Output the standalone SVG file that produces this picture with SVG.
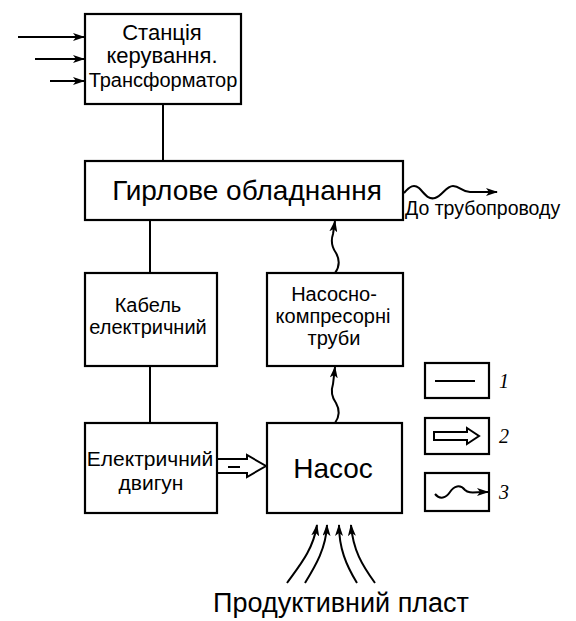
<svg xmlns="http://www.w3.org/2000/svg" width="576" height="621" viewBox="0 0 576 621">
<style>
.box{fill:#fff;stroke:#000;stroke-width:2.2}
.ln{fill:none;stroke:#000;stroke-width:2}
.t{font-family:"Liberation Sans",Arial,sans-serif;fill:#000;text-anchor:middle}
.num{font-family:"Liberation Serif","Times New Roman",serif;font-style:italic;fill:#000;font-size:20px}
</style>
<defs>
<marker id="ah" viewBox="0 0 12 8" refX="11" refY="4" markerWidth="12" markerHeight="8" markerUnits="userSpaceOnUse" orient="auto">
<path d="M0,0 L12,4 L0,8 L3,4 Z" fill="#000"/>
</marker>
</defs>
<rect width="576" height="621" fill="#fff"/>
<g id="connectors">
<line class="ln" x1="18" y1="37" x2="84" y2="37" marker-end="url(#ah)"/>
<line class="ln" x1="35" y1="59" x2="84" y2="59" marker-end="url(#ah)"/>
<line class="ln" x1="50" y1="81" x2="84" y2="81" marker-end="url(#ah)"/>
<line class="ln" x1="163" y1="104" x2="163" y2="161"/>
<line class="ln" x1="150" y1="220" x2="150" y2="273"/>
<line class="ln" x1="150" y1="366" x2="150" y2="423"/>
<path class="ln" d="M404,193 C410,186 414,184 419,188 C425,194 428,200 435,198 C442,196 446,186 453,186 C460,186 462,192 470,192 L497,192" marker-end="url(#ah)"/>
<path class="ln" d="M335,273 C340,266 340,260 336,253 C331,246 331,240 333,234 L335,221" marker-end="url(#ah)"/>
<path class="ln" d="M335,423 C340,416 340,410 336,403 C331,396 331,390 333,384 L335,367" marker-end="url(#ah)"/>
<path class="ln" d="M218,459 L247,459 L247,455 L266,466 L247,477 L247,473 L218,473"/>
<line class="ln" x1="228" y1="467" x2="240" y2="467"/>
<path class="ln" d="M287,583 C300,565 313,550 317,525" marker-end="url(#ah)"/>
<path class="ln" d="M305,583 C316,565 326,548 327,525" marker-end="url(#ah)"/>
<path class="ln" d="M357,583 C346,565 339,548 339,525" marker-end="url(#ah)"/>
<path class="ln" d="M375,583 C362,565 353,550 351,525" marker-end="url(#ah)"/>
</g>
<g id="station">
<rect class="box" x="85" y="14" width="156" height="90"/>
<text class="t" x="162" y="40" font-size="22">Станція</text>
<text class="t" x="162" y="63" font-size="22">керування.</text>
<text class="t" x="163" y="87" font-size="20">Трансформатор</text>
</g>
<g id="wellhead">
<rect class="box" x="85" y="161" width="318" height="59"/>
<text class="t" x="247" y="200" font-size="28">Гирлове обладнання</text>
<text x="405" y="215" font-size="19.5" font-family="Liberation Sans, Arial, sans-serif">До трубопроводу</text>
</g>
<g id="cable">
<rect class="box" x="85" y="273" width="132" height="93"/>
<text class="t" x="148" y="312" font-size="20">Кабель</text>
<text class="t" x="148" y="334" font-size="20">електричний</text>
</g>
<g id="tubing">
<rect class="box" x="267" y="273" width="136" height="93"/>
<text class="t" x="334" y="301" font-size="20">Насосно-</text>
<text class="t" x="333" y="323" font-size="20">компресорні</text>
<text class="t" x="334" y="345" font-size="20">труби</text>
</g>
<g id="motor">
<rect class="box" x="85" y="423" width="132" height="90"/>
<text class="t" x="150" y="466" font-size="21">Електричний</text>
<text class="t" x="151" y="490" font-size="21">двигун</text>
</g>
<g id="pump">
<rect class="box" x="267" y="423" width="135" height="90"/>
<text class="t" x="333" y="478" font-size="28">Насос</text>
</g>
<g id="formation">
<text class="t" x="341" y="612" font-size="27">Продуктивний пласт</text>
</g>
<g id="legend">
<rect class="box" x="425" y="363" width="64" height="35" stroke-width="1.8"/>
<line class="ln" x1="435" y1="381" x2="475" y2="381" stroke-width="1.6"/>
<text class="num" x="499" y="388">1</text>
<rect class="box" x="425" y="418" width="64" height="36" stroke-width="1.8"/>
<path class="ln" stroke-width="1.6" d="M434,432 L467,432 L467,428 L479,436 L467,444 L467,440 L434,440 Z"/>
<text class="num" x="499" y="443">2</text>
<rect class="box" x="425" y="473" width="64" height="38" stroke-width="1.8"/>
<path class="ln" stroke-width="1.6" d="M435,494 C440,500 446,498 450,492 C454,486 460,484 465,490 C469,494 474,492 488,492" marker-end="url(#ah)"/>
<text class="num" x="499" y="499">3</text>
</g>
</svg>
